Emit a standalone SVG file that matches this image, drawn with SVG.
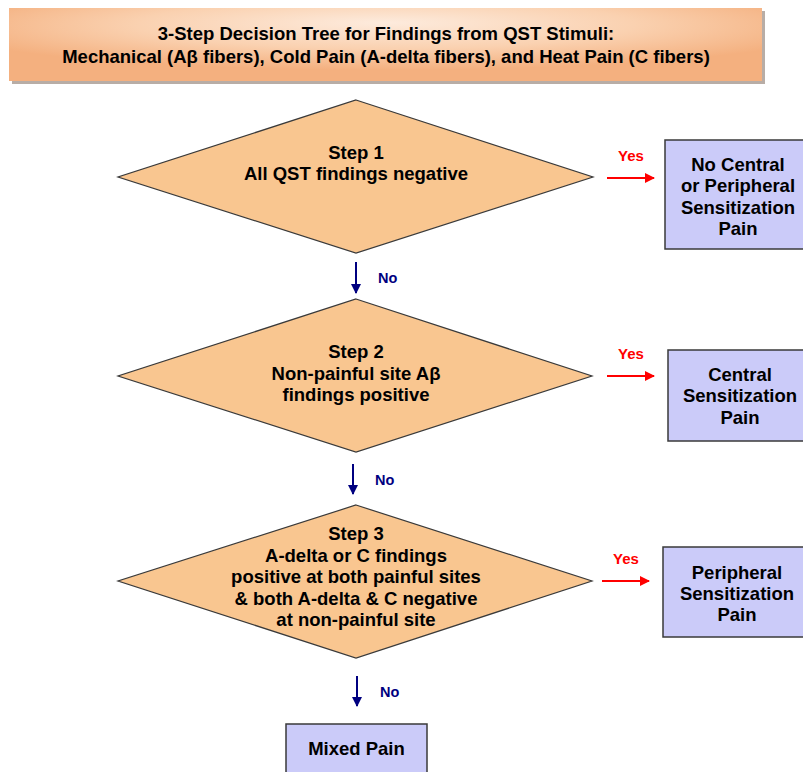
<svg xmlns="http://www.w3.org/2000/svg" width="803" height="772" viewBox="0 0 803 772">
<defs>
<radialGradient id="tg" cx="50%" cy="25%" r="60%" fx="50%" fy="20%">
<stop offset="0" stop-color="#FDEBDD"/>
<stop offset="0.55" stop-color="#FAD1B0"/>
<stop offset="1" stop-color="#F4B07F"/>
</radialGradient>
<marker id="ab" viewBox="0 0 10 10" refX="9" refY="5" markerWidth="10" markerHeight="10" markerUnits="userSpaceOnUse" orient="auto">
<path d="M0,0 L10,5 L0,10 z" fill="#000080"/>
</marker>
<marker id="ar" viewBox="0 0 10 10" refX="9" refY="5" markerWidth="10" markerHeight="10" markerUnits="userSpaceOnUse" orient="auto">
<path d="M0,0 L10,5 L0,10 z" fill="#FF0000"/>
</marker>
</defs>
<style>
text{font-family:"Liberation Sans",Arial,sans-serif;font-weight:bold;text-anchor:middle;fill:#000}
.t{font-size:18.5px}
.no{font-size:14.5px;fill:#000080;text-anchor:start}
.yes{font-size:15px;fill:#FF0000}
.dia{fill:#F9C690;stroke:#3a3a3a;stroke-width:1.2}
.box{fill:#CBCBF9;stroke:#3a3a3a;stroke-width:1.5}
.bl{stroke:#000080;stroke-width:2;fill:none}
.rd{stroke:#FF0000;stroke-width:2;fill:none}
</style>
<rect width="803" height="772" fill="#fff"/>
<g id="title">
<rect x="12" y="11" width="753" height="73" fill="#9a8a80" opacity="0.7"/>
<rect x="9" y="8" width="753" height="73" fill="url(#tg)"/>
<text class="t" x="386" y="40">3-Step Decision Tree for Findings from QST Stimuli:</text>
<text class="t" x="386" y="63">Mechanical (Aβ fibers), Cold Pain (A-delta fibers), and Heat Pain (C fibers)</text>
</g>
<g id="step1">
<polygon class="dia" points="356,100 593,177 356,253 118,177"/>
<text class="t" x="356" y="159">Step 1</text>
<text class="t" x="356" y="180">All QST findings negative</text>
</g>
<g id="step2">
<polygon class="dia" points="356,299 592,376 356,452 118,376"/>
<text class="t" x="356" y="358">Step 2</text>
<text class="t" x="356" y="379.5">Non-painful site Aβ</text>
<text class="t" x="356" y="401">findings positive</text>
</g>
<g id="step3">
<polygon class="dia" points="356,505 592,581 356,658 118,581"/>
<text class="t" x="356" y="540">Step 3</text>
<text class="t" x="356" y="561.5">A-delta or C findings</text>
<text class="t" x="356" y="583">positive at both painful sites</text>
<text class="t" x="356" y="604.5">&amp; both A-delta &amp; C negative</text>
<text class="t" x="356" y="626">at non-painful site</text>
</g>
<g id="noCentral">
<rect class="box" x="665" y="140" width="150" height="109"/>
<text class="t" x="738" y="170.5">No Central</text>
<text class="t" x="738" y="192">or Peripheral</text>
<text class="t" x="738" y="213.5">Sensitization</text>
<text class="t" x="738" y="235">Pain</text>
</g>
<g id="central">
<rect class="box" x="668" y="350" width="150" height="91"/>
<text class="t" x="740" y="380.5">Central</text>
<text class="t" x="740" y="402">Sensitization</text>
<text class="t" x="740" y="423.5">Pain</text>
</g>
<g id="peripheral">
<rect class="box" x="663" y="547" width="150" height="90"/>
<text class="t" x="737" y="578.5">Peripheral</text>
<text class="t" x="737" y="600">Sensitization</text>
<text class="t" x="737" y="621">Pain</text>
</g>
<g id="mixed">
<rect class="box" x="286" y="724" width="141" height="52"/>
<text class="t" x="356.5" y="754.5">Mixed Pain</text>
</g>
<g id="connectors">
<line class="bl" x1="356" y1="262" x2="356" y2="293" marker-end="url(#ab)"/>
<text class="no" x="378" y="283">No</text>
<line class="bl" x1="353" y1="464" x2="353" y2="494" marker-end="url(#ab)"/>
<text class="no" x="375" y="485">No</text>
<line class="bl" x1="357" y1="676" x2="357" y2="706" marker-end="url(#ab)"/>
<text class="no" x="380" y="697">No</text>
<line class="rd" x1="607" y1="178" x2="654" y2="178" marker-end="url(#ar)"/>
<text class="yes" x="631" y="161">Yes</text>
<line class="rd" x1="607" y1="376" x2="654" y2="376" marker-end="url(#ar)"/>
<text class="yes" x="631" y="359">Yes</text>
<line class="rd" x1="602" y1="581" x2="649" y2="581" marker-end="url(#ar)"/>
<text class="yes" x="626" y="564">Yes</text>
</g>
</svg>
